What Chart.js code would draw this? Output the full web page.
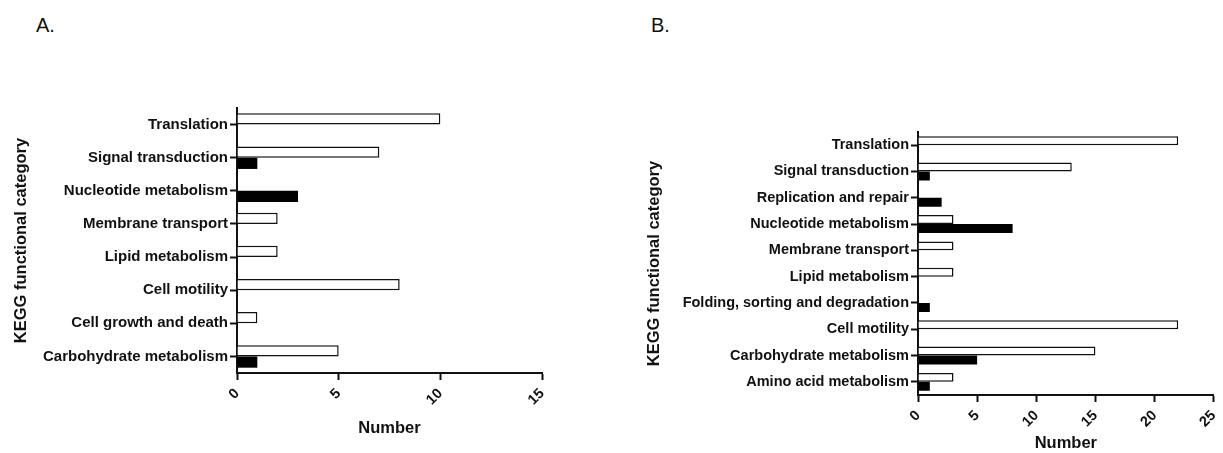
<!DOCTYPE html>
<html>
<head>
<meta charset="utf-8">
<script src="https://cdn.jsdelivr.net/npm/chart.js@4"></script>
<style>
  body { margin: 0; background: #fff; width: 1223px; height: 453px; position: relative; overflow: hidden; }
  .panel { position: absolute; top: 0; height: 453px; }
  .tag { position: absolute; top: 14px; font: 20px "Liberation Sans", Arial, sans-serif; color: #111; }
</style>
</head>
<body>
<div class="tag" style="left:36px">A.</div>
<div class="tag" style="left:651px">B.</div>
<div class="panel" style="left:0;width:560px"><canvas id="chartA"></canvas></div>
<div class="panel" style="left:600px;width:631px"><canvas id="chartB"></canvas></div>
<script>
// panel A data
const categoriesA = ['Translation', 'Signal transduction', 'Nucleotide metabolism', 'Membrane transport',
  'Lipid metabolism', 'Cell motility', 'Cell growth and death', 'Carbohydrate metabolism'];
const whiteA = [10, 7, 0, 2, 2, 8, 1, 5];
const blackA = [0, 1, 3, 0, 0, 0, 0, 1];
const ticksA = [0, 5, 10, 15];

// panel B data
const categoriesB = ['Translation', 'Signal transduction', 'Replication and repair', 'Nucleotide metabolism',
  'Membrane transport', 'Lipid metabolism', 'Folding, sorting and degradation', 'Cell motility',
  'Carbohydrate metabolism', 'Amino acid metabolism'];
const whiteB = [22, 13, 0, 3, 3, 3, 0, 22, 15, 3];
const blackB = [0, 1, 2, 8, 0, 0, 1, 0, 5, 1];
const ticksB = [0, 5, 10, 15, 20, 25];

const ink = '#111';
const fam = '"Liberation Sans", Arial, sans-serif';

function makeChart(id, cats, white, black, tickVals, opt) {
  const ctx = document.getElementById(id).getContext('2d');
  return new Chart(ctx, {
    type: 'bar',
    data: {
      labels: cats,
      datasets: [
        { data: white, backgroundColor: '#fff', borderColor: ink, borderWidth: 1.5,
          categoryPercentage: 0.68, barPercentage: 1.0 },
        { data: black, backgroundColor: '#000', borderColor: '#000', borderWidth: 0,
          categoryPercentage: 0.68, barPercentage: 1.0 }
      ]
    },
    options: {
      indexAxis: 'y',
      responsive: true,
      maintainAspectRatio: false,
      animation: false,
      layout: { padding: { top: opt.top, right: opt.right, left: 0, bottom: 0 } },
      plugins: { legend: { display: false }, tooltip: { enabled: false } },
      scales: {
        x: {
          min: 0,
          max: tickVals[tickVals.length - 1],
          afterBuildTicks: (axis) => { axis.ticks = tickVals.map(v => ({ value: v })); },
          afterFit: (axis) => { axis.height = opt.xHeight; },
          border: { display: true, color: ink, width: 2 },
          grid: { drawOnChartArea: false, drawTicks: true, tickLength: 7, tickColor: ink, tickWidth: 2 },
          ticks: { color: ink, font: { family: fam, size: 14.5, weight: 'bold' },
                   minRotation: 45, maxRotation: 45, padding: 5 },
          title: { display: true, text: 'Number', color: ink,
                   font: { family: fam, size: 16.5, weight: 'bold' },
                   padding: { top: 0, bottom: opt.xTitlePad } }
        },
        y: {
          afterFit: (axis) => { axis.width = opt.yWidth; },
          border: { display: true, color: ink, width: 2 },
          grid: { offset: false, drawOnChartArea: false, drawTicks: true, tickLength: 7, tickColor: ink, tickWidth: 2 },
          ticks: { color: ink, font: { family: fam, size: opt.labelSize, weight: 'bold' }, padding: 2, autoSkip: false },
          title: { display: true, text: 'KEGG functional category', color: ink,
                   font: { family: fam, size: 16.5, weight: 'bold' },
                   padding: { top: opt.yTitlePad, bottom: 0 } }
        }
      }
    }
  });
}

makeChart('chartA', categoriesA, whiteA, blackA, ticksA,
  { top: 108, right: 18, xHeight: 80, yWidth: 237, labelSize: 15, xTitlePad: 15, yTitlePad: 12 });
makeChart('chartB', categoriesB, whiteB, blackB, ticksB,
  { top: 132, right: 2, xHeight: 58, yWidth: 318, labelSize: 14.5, xTitlePad: 0, yTitlePad: 45 });
</script>
</body>
</html>
